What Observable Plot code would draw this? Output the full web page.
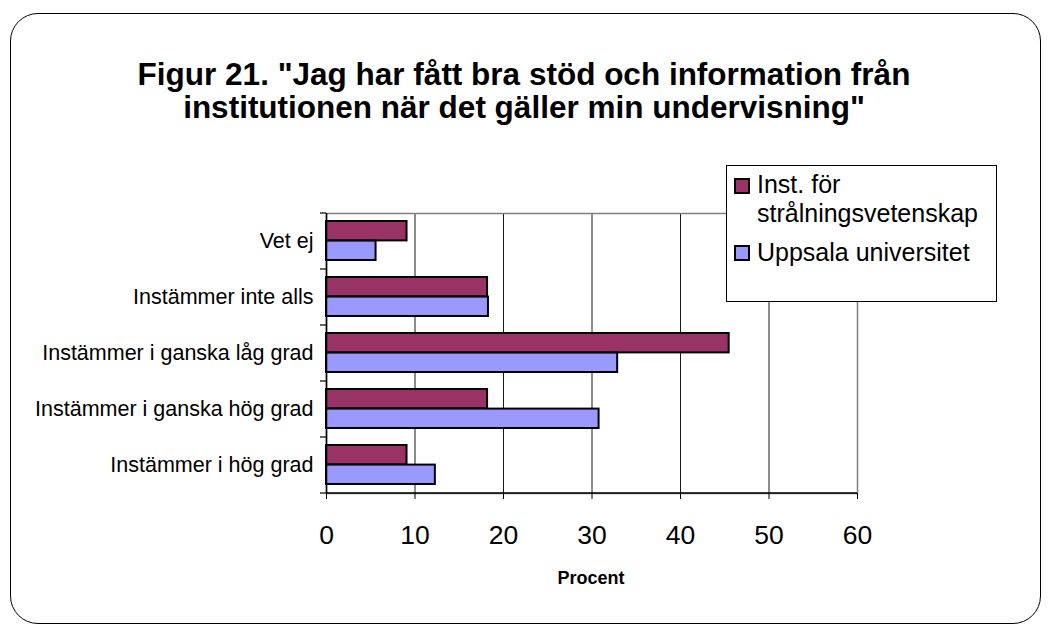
<!DOCTYPE html>
<html><head><meta charset="utf-8">
<script src="https://cdn.jsdelivr.net/npm/d3@7"></script>
<script src="https://cdn.jsdelivr.net/npm/@observablehq/plot@0.6"></script>
<style>
body{margin:0;background:#fff;font-family:"Liberation Sans",Arial,sans-serif;}
#wrap{position:relative;width:1048px;height:625px;overflow:hidden;background:#fff;}
#chart{position:absolute;left:0;top:0;}
#border{position:absolute;left:10px;top:13px;width:1031px;height:611px;border:1.5px solid #000;border-radius:28px;box-sizing:border-box;pointer-events:none;}
#title{position:absolute;left:0;width:1048px;top:58px;text-align:center;font-weight:bold;font-size:31.5px;line-height:33px;color:#000;}
#xlabel{position:absolute;left:491px;width:200px;top:566px;text-align:center;font-weight:bold;font-size:18px;line-height:24px;}
#legend{position:absolute;left:726px;top:165px;width:271px;height:137px;border:1px solid #000;background:#fff;box-sizing:border-box;}
.sw{position:absolute;width:16px;height:16px;border:2px solid #000;box-sizing:border-box;}
.lt{position:absolute;font-size:25px;line-height:29px;white-space:nowrap;}
</style>
</head><body>
<div id="wrap">
  <div id="chart"></div>
  <div id="border"></div>
  <div id="title"></div>
  <div id="xlabel"></div>
  <div id="legend"></div>
</div>
<script>
const titleLines = ["Figur 21. \"Jag har fått bra stöd och information från", "institutionen när det gäller min undervisning\""];
const categories = ["Vet ej", "Instämmer inte alls", "Instämmer i ganska låg grad", "Instämmer i ganska hög grad", "Instämmer i hög grad"];
const series = ["Inst. för strålningsvetenskap", "Uppsala universitet"];
const legendLines = [["Inst. för", "strålningsvetenskap"], ["Uppsala universitet"]];
const instValues = [9.1, 18.2, 45.5, 18.2, 9.1];
const uuValues = [5.6, 18.3, 32.9, 30.8, 12.3];
const colors = ["#993366", "#9999ff"];
const xTicks = [0, 10, 20, 30, 40, 50, 60];
const xLabel = "Procent";

const data = categories.flatMap((c, i) => [
  {category: c, series: series[0], value: instValues[i]},
  {category: c, series: series[1], value: uuValues[i]}
]);

const W = 1048, H = 625;
const mL = 326, mR = 191, mT = 213, mB = 132;
const plotH = H - mT - mB;
const step = plotH / categories.length;
const pInner = 0.3, pOuter = 0.15;
const bandW = step * (1 - pInner);
const half = bandW / 2;

const chart = Plot.plot({
  width: W, height: H,
  marginLeft: mL, marginRight: mR, marginTop: mT, marginBottom: mB,
  style: {fontFamily: "'Liberation Sans', Arial, sans-serif", background: "transparent", color: "#000"},
  x: {domain: [0, 60]},
  y: {domain: categories, paddingInner: pInner, paddingOuter: pOuter},
  color: {domain: series, range: colors},
  marks: [
    Plot.ruleX(xTicks, {stroke: "#1a1a1a", strokeWidth: 1}),
    Plot.frame({stroke: "#808080", strokeWidth: 1.5}),
    Plot.barX(data.filter(d => d.series === series[0]), {x: "value", y: "category", fill: "series", stroke: "#000", strokeWidth: 2, insetBottom: half}),
    Plot.barX(data.filter(d => d.series === series[1]), {x: "value", y: "category", fill: "series", stroke: "#000", strokeWidth: 2, insetTop: half}),
    Plot.ruleX([0], {stroke: "#000", strokeWidth: 1.5}),
    Plot.ruleY([categories[categories.length - 1]], {dy: step / 2, stroke: "#000", strokeWidth: 1.5}),
    Plot.ruleY(categories, {dy: -step / 2, x1: 0, x2: 0, insetLeft: -6, stroke: "#000", strokeWidth: 1.2, clip: false}),
    Plot.ruleY([categories[categories.length - 1]], {dy: step / 2, x1: 0, x2: 0, insetLeft: -6, stroke: "#000", strokeWidth: 1.2, clip: false}),
    Plot.axisY({tickSize: 0, tickPadding: 13, fontSize: 21.5, label: null}),
    Plot.axisX({ticks: xTicks, tickSize: 6, tickPadding: 26, fontSize: 26.5, label: null})
  ]
});
document.getElementById("chart").appendChild(chart);

document.getElementById("title").innerHTML = titleLines.map(t => `<div>${t}</div>`).join("");
document.getElementById("xlabel").textContent = xLabel;

const legend = document.getElementById("legend");
const rows = [{textTop: 4, swTop: 12}, {textTop: 72, swTop: 79}];
legendLines.forEach((lines, i) => {
  const sw = document.createElement("div");
  sw.className = "sw";
  sw.style.left = "7px";
  sw.style.top = rows[i].swTop + "px";
  sw.style.background = colors[i];
  legend.appendChild(sw);
  lines.forEach((ln, j) => {
    const t = document.createElement("div");
    t.className = "lt";
    t.style.left = "30px";
    t.style.top = (rows[i].textTop + j * 29) + "px";
    t.textContent = ln;
    legend.appendChild(t);
  });
});
</script>
</body></html>
